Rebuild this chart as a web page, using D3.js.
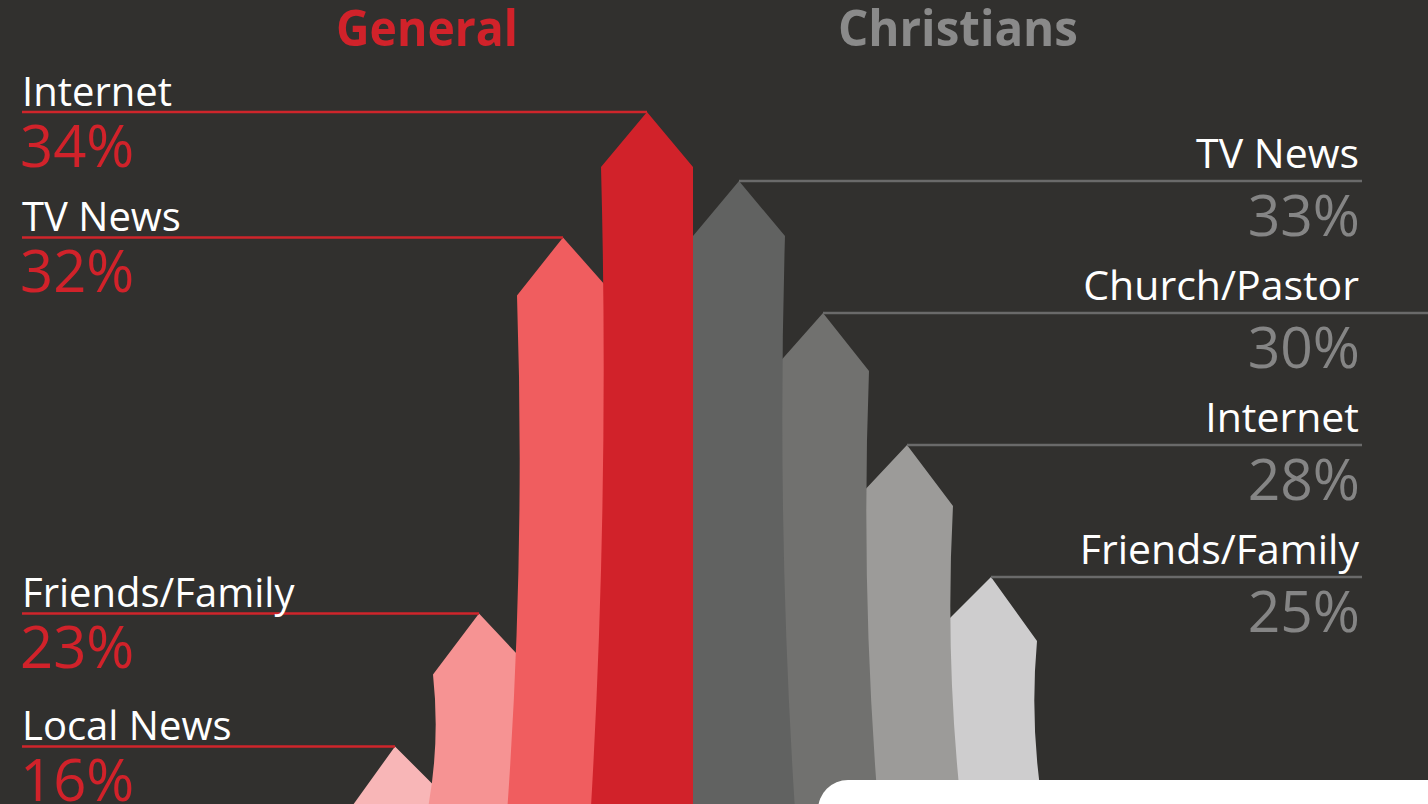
<!DOCTYPE html>
<html>
<head>
<meta charset="utf-8">
<script src="https://cdn.jsdelivr.net/npm/d3@7"></script>
<style>
  html, body { margin: 0; padding: 0; background: #31302e; overflow: hidden; }
  svg { display: block; }
  text { font-family: "Open Sans", "Noto Sans", sans-serif; }
</style>
</head>
<body>
<svg id="chart" width="1428" height="804"></svg>
<script>
// ---- data ----
const groupTitles = ["General", "Christians"];
const generalCategories = ["Internet", "TV News", "Friends/Family", "Local News"];
const generalValues = [34, 32, 23, 16];
const christianCategories = ["TV News", "Church/Pastor", "Internet", "Friends/Family"];
const christianValues = [33, 30, 28, 25];
const generalColors = ["#d1222a", "#f05d5f", "#f69393", "#f8b6b7"];
const christianColors = ["#616261", "#71716f", "#9c9b99", "#cecdce"];

// ---- layout ----
const W = 1428, H = 804;
const mid = 693;
const svg = d3.select("#chart");
svg.append("rect").attr("width", W).attr("height", H).attr("fill", "#31302e");

// tip heights: General uses a power scale of the value,
// Christians are ranked by value (categories already sorted descending)
const yGeneral = d3.scalePow().exponent(3.3)
  .domain([0, d3.max(generalValues)]).range([H, 112]);
const christianRank = d3.scalePoint()
  .domain(d3.sort(christianValues, (a, b) => b - a)).range([181, 577]);
const yChristian = v => christianRank(v);
const slot = d3.scaleLinear().domain([0, 1]).range([46, 130]); // center offset from mid

const halfW = 46, headH = 55, bottom = 840;

function arrowPath(i, tipY, dir) {
  const cx = mid + dir * slot(i);
  const tilt = 3 * i;
  const outerX = cx + dir * halfW;
  const innerX = cx - dir * halfW;
  const oY = tipY + headH + tilt;
  const iY = tipY + headH - tilt;
  const p = d3.path();
  p.moveTo(cx, tipY);
  p.lineTo(outerX, oY);
  p.quadraticCurveTo(outerX - dir * 9, (oY + bottom) / 2, outerX + dir * 12, bottom);
  p.lineTo(innerX, bottom);
  p.lineTo(innerX, iY);
  p.closePath();
  return p.toString();
}

function drawGroup(values, colors, dir, yScale) {
  const g = svg.append("g");
  const idx = d3.range(values.length).reverse();
  g.selectAll("path").data(idx).join("path")
    .attr("d", i => arrowPath(i, yScale(values[i]), dir))
    .attr("fill", i => colors[i]);
}
drawGroup(generalValues, generalColors, -1, yGeneral);
drawGroup(christianValues, christianColors, 1, yChristian);

// white card at bottom right
svg.append("rect").attr("x", 818).attr("y", 780).attr("width", 700).attr("height", 120)
  .attr("rx", 30).attr("fill", "#ffffff");

// ---- leader lines & labels: General (left) ----
const leftX = 22;
const gl = svg.append("g");
generalValues.forEach((v, i) => {
  const cx = mid - slot(i);
  const ty = yGeneral(v);
  gl.append("line").attr("x1", leftX).attr("x2", cx).attr("y1", ty).attr("y2", ty)
    .attr("stroke", "#cf252b").attr("stroke-width", 2.5);
  gl.append("text").attr("x", leftX).attr("y", ty - 6)
    .attr("fill", "#ffffff").attr("font-size", 40)
    .text(generalCategories[i]);
  gl.append("text").attr("x", leftX - 2).attr("y", ty + 55)
    .attr("fill", "#d1222a").attr("font-size", 58)
    .text(generalValues[i] + "%");
});

// ---- Christians (right) ----
const rightX = 1360;
const gr = svg.append("g");
christianValues.forEach((v, i) => {
  const cx = mid + slot(i);
  const ty = yChristian(v);
  gr.append("line").attr("x1", cx).attr("x2", i === 1 ? W : rightX + 2).attr("y1", ty).attr("y2", ty)
    .attr("stroke", "#6a6a6a").attr("stroke-width", 2.5);
  gr.append("text").attr("x", rightX - 1).attr("y", ty - 13)
    .attr("text-anchor", "end")
    .attr("fill", "#ffffff").attr("font-size", 41)
    .text(christianCategories[i]);
  gr.append("text").attr("x", rightX).attr("y", ty + 55)
    .attr("text-anchor", "end")
    .attr("fill", "#858585").attr("font-size", 57)
    .text(christianValues[i] + "%");
});

// ---- titles ----
svg.append("text").attr("x", 427).attr("y", 46).attr("text-anchor", "middle")
  .attr("fill", "#d1222a").attr("font-size", 50).attr("font-weight", 700)
  .attr("textLength", 182).attr("lengthAdjust", "spacingAndGlyphs")
  .text(groupTitles[0]);
svg.append("text").attr("x", 958).attr("y", 46).attr("text-anchor", "middle")
  .attr("fill", "#8a8a8a").attr("font-size", 50).attr("font-weight", 700)
  .attr("textLength", 240).attr("lengthAdjust", "spacingAndGlyphs")
  .text(groupTitles[1]);
</script>
</body>
</html>
